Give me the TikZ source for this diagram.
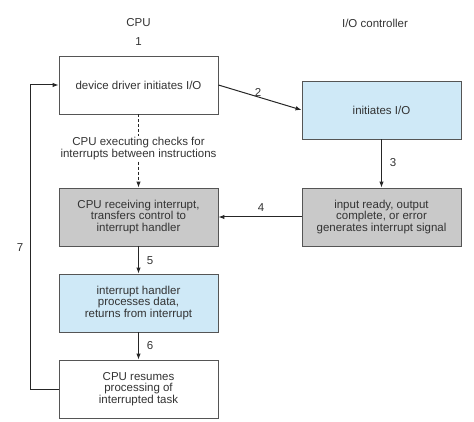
\documentclass[tikz,border=0pt]{standalone}
\usepackage{fontspec}
\setmainfont{Liberation Sans}
\usetikzlibrary{arrows.meta}
\definecolor{boxblue}{HTML}{CFE9F7}
\definecolor{boxgray}{HTML}{C9C9C9}
\definecolor{edge}{HTML}{555555}
\tikzset{
  box/.style={draw=edge, line width=0.9pt, minimum width=159pt, minimum height=58pt,
    inner sep=2pt, align=center, font=\fontsize{11.5}{11.8}\selectfont, text=black!80},
  lbl/.style={font=\fontsize{11.5}{12}\selectfont, text=black!80, inner sep=1pt},
  conn/.style={line width=1pt, black!85, -{Latex[length=6pt,width=4.5pt]}},
  dconn/.style={line width=1pt, black!85, dashed, dash pattern=on 3pt off 2pt}
}
\begin{document}
\begin{tikzpicture}[x=1pt,y=-1pt]
\useasboundingbox (0,0) rectangle (474,422);
\node[box, fill=white] (b1) at (138.5,85) {device driver initiates I/O};
\node[box, fill=boxblue] (b2) at (381.5,110) {initiates I/O};
\node[box, fill=boxgray] (b3) at (381.5,217) {input ready, output\\complete, or error\\generates interrupt signal};
\node[box, fill=boxgray] (b4) at (138.5,217) {CPU receiving interrupt,\\transfers control to\\interrupt handler};
\node[box, fill=boxblue] (b5) at (138.5,303) {interrupt handler\\processes data,\\returns from interrupt};
\node[box, fill=white] (b6) at (138.5,389) {CPU resumes\\processing of\\interrupted task};
\node[lbl] (cpu) at (138.5,23) {CPU};
\node[lbl] (one) at (138.5,42) {1};
\node[lbl] (ioc) at (375,23) {I/O controller};
\node[lbl, align=center] (chk) at (138.5,149) {CPU executing checks for\\interrupts between instructions};
\node[lbl] (n2) at (258,92) {2};
\node[lbl] (n3) at (393,163) {3};
\node[lbl] (n4) at (261,208) {4};
\node[lbl] (n5) at (150,261) {5};
\node[lbl] (n6) at (150,346) {6};
\node[lbl] (n7) at (20,248) {7};
\coordinate (c1) at (30,389);
\coordinate (c2) at (30,85);
\draw[dconn] (b1.south) -- (chk.north);
\draw[dconn, -{Latex[length=6pt,width=4.5pt]}] (chk.south) -- (b4.north);
\draw[conn] (b1.east) -- (b2.west);
\draw[conn] (b2.south) -- (b3.north);
\draw[conn] (b3.west) -- (b4.east);
\draw[conn] (b4.south) -- (b5.north);
\draw[conn] (b5.south) -- (b6.north);
\draw[conn] (b6.west) -- (c1) -- (c2) -- (b1.west);
\end{tikzpicture}
\end{document}
